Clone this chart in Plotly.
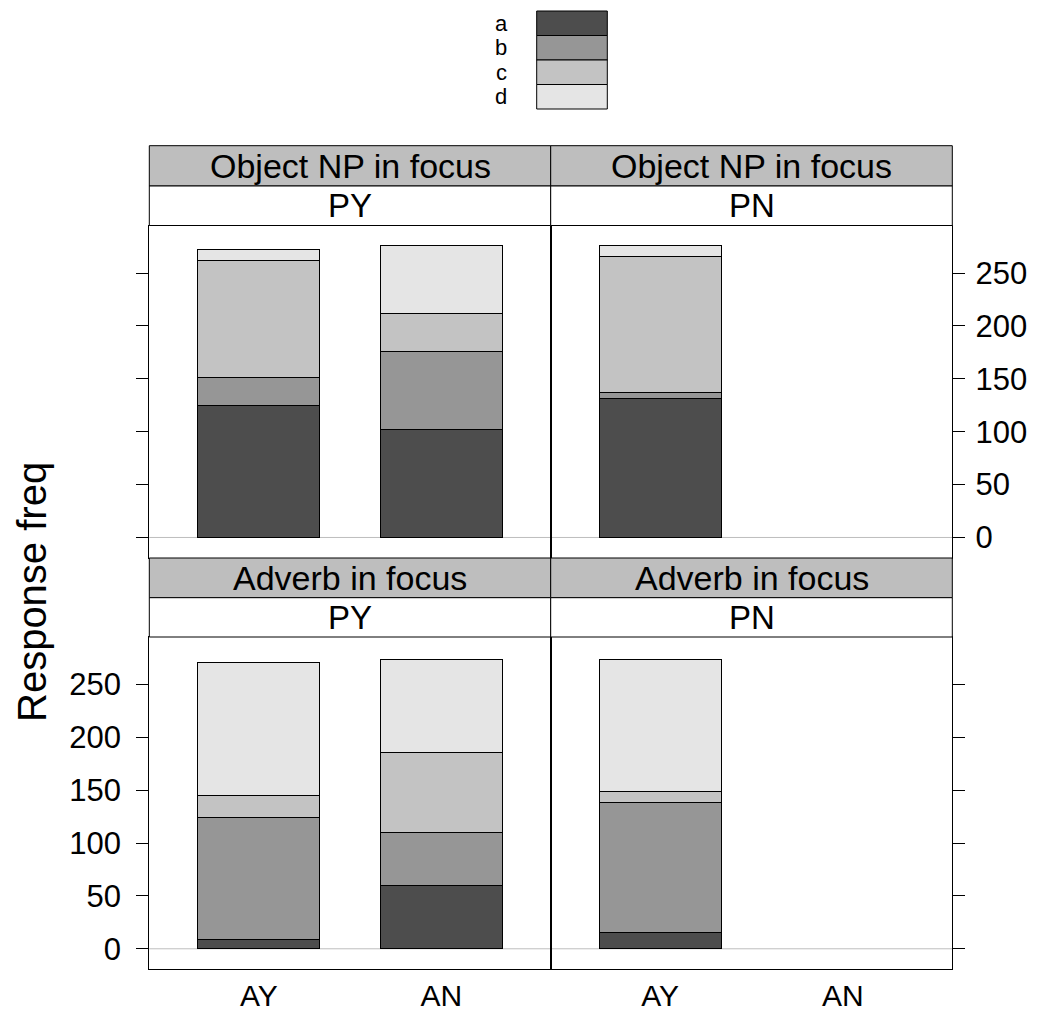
import plotly.graph_objects as go

# Stacked response counts: rows are response levels a..d, columns are AY, AN
categories = ["AY", "AN"]
levels = ["a", "b", "c", "d"]
level_colors = ["#4D4D4D", "#969696", "#C3C3C3", "#E5E5E5"]

obj_py = [[125, 102], [26, 74], [111, 36], [10, 64]]
obj_pn = [[131, None], [6, None], [129, None], [10, None]]
adv_py = [[9, 60], [115, 50], [21, 76], [126, 88]]
adv_pn = [[15, None], [123, None], [11, None], [125, None]]

focus_labels = ["Object NP in focus", "Adverb in focus"]
prime_labels = ["PY", "PN"]
y_ticks = [0, 50, 100, 150, 200, 250]

W, H = 1040, 1012
FONT = "Liberation Sans, Arial, Helvetica, sans-serif"


def px_x(v):
    return v / W


def px_y(v):
    return 1 - v / H


# panel geometry (pixels)
col_edges = [(149.3, 550.7), (550.7, 952.3)]
row_plot = [(225.5, 558.0), (637.0, 969.3)]
row_strip = [(145.7, 186.0, 225.5), (558.0, 597.7, 637.0)]

panels = [
    (obj_py, 0, 0), (obj_pn, 0, 1),
    (adv_py, 1, 0), (adv_pn, 1, 1),
]

fig = go.Figure()
layout = {}
shapes = []
annotations = []
y_range = [-19.4, 294.9]

for idx, (data, r, c) in enumerate(panels):
    n = idx + 1
    xa = "x" if n == 1 else f"x{n}"
    ya = "y" if n == 1 else f"y{n}"
    for lvl, col, vals in zip(levels, level_colors, data):
        fig.add_trace(go.Bar(
            x=categories, y=vals, name=lvl, xaxis=xa, yaxis=ya,
            marker=dict(color=col, line=dict(color="black", width=1)),
            showlegend=False, hoverinfo="x+y+name",
        ))
    x0, x1 = col_edges[c]
    top, bot = row_plot[r]
    xkey = "xaxis" if n == 1 else f"xaxis{n}"
    ykey = "yaxis" if n == 1 else f"yaxis{n}"
    layout[xkey] = dict(
        domain=[px_x(x0), px_x(x1)], anchor=ya, type="category",
        categoryorder="array", categoryarray=categories,
        range=[-0.6, 1.6], showgrid=False, zeroline=False,
        showline=True, mirror=True, linecolor="black", linewidth=1,
        ticks="", showticklabels=(r == 1), automargin=False,
        tickfont=dict(size=30, color="black", family=FONT),
    )
    side = "left" if c == 0 else "right"
    show_lbl = (r == 0 and c == 1) or (r == 1 and c == 0)
    layout[ykey] = dict(
        domain=[px_y(bot), px_y(top)], anchor=xa, range=y_range,
        side=side, tickvals=y_ticks, ticks="outside", ticklen=12,
        tickcolor="black", tickwidth=1, showgrid=False, zeroline=False,
        showline=True, mirror=True, linecolor="black", linewidth=1,
        showticklabels=show_lbl, automargin=False,
        ticklabelstandoff=(9 if side == "left" else 4),
        tickfont=dict(size=31, color="black", family=FONT),
    )
    # reference line at zero
    shapes.append(dict(
        type="line", xref=f"{xa} domain", yref=ya, x0=0, x1=1, y0=0, y1=0,
        line=dict(color="#BEBEBE", width=1), layer="below",
    ))
    # strips: focus (shaded) above prime (white)
    s0, s1, s2 = row_strip[r]
    shapes.append(dict(
        type="rect", xref="paper", yref="paper",
        x0=px_x(x0), x1=px_x(x1), y0=px_y(s1), y1=px_y(s0),
        fillcolor="#BEBEBE", line=dict(color="black", width=1),
    ))
    shapes.append(dict(
        type="rect", xref="paper", yref="paper",
        x0=px_x(x0), x1=px_x(x1), y0=px_y(s2), y1=px_y(s1),
        fillcolor="white", line=dict(color="black", width=1),
    ))
    annotations.append(dict(
        text=focus_labels[r], xref="paper", yref="paper",
        x=px_x((x0 + x1) / 2), y=px_y((s0 + s1) / 2),
        showarrow=False, font=dict(size=34, color="black", family=FONT),
        xanchor="center", yanchor="middle",
    ))
    annotations.append(dict(
        text=prime_labels[c], xref="paper", yref="paper",
        x=px_x((x0 + x1) / 2), y=px_y((s1 + s2) / 2),
        showarrow=False, font=dict(size=33, color="black", family=FONT),
        xanchor="center", yanchor="middle",
    ))

# key at the top: labels to the left of stacked colour boxes
key_x0, key_x1 = 536.7, 607.3
key_top, key_row = 11.0, 24.5
for i, (lvl, col) in enumerate(zip(levels, level_colors)):
    t = key_top + i * key_row
    shapes.append(dict(
        type="rect", xref="paper", yref="paper",
        x0=px_x(key_x0), x1=px_x(key_x1), y0=px_y(t + key_row), y1=px_y(t),
        fillcolor=col, line=dict(color="black", width=1),
    ))
    annotations.append(dict(
        text=lvl, xref="paper", yref="paper",
        x=px_x(501), y=px_y(t + key_row / 2),
        showarrow=False, font=dict(size=22, color="black", family=FONT),
        xanchor="center", yanchor="middle",
    ))

annotations.append(dict(
    text="Response freq", xref="paper", yref="paper",
    x=px_x(32), y=px_y(592), textangle=-90, showarrow=False,
    font=dict(size=40, color="black", family=FONT),
    xanchor="center", yanchor="middle",
))

fig.update_layout(
    **layout,
    width=W, height=H,
    margin=dict(l=0, r=0, t=0, b=0, autoexpand=False),
    paper_bgcolor="white", plot_bgcolor="white",
    barmode="stack", bargap=1 / 3,
    shapes=shapes, annotations=annotations,
    font=dict(family=FONT, color="black"),
)

fig.write_html("out.html")
